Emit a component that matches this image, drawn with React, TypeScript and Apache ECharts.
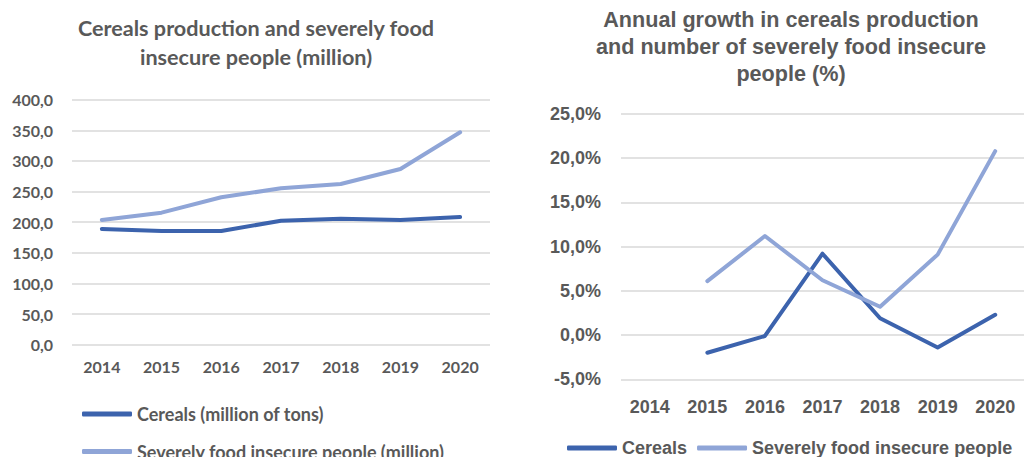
import React, { useEffect, useRef } from "react";
import * as echarts from "echarts";

const years = ["2014", "2015", "2016", "2017", "2018", "2019", "2020"];
const cerealsMillion = [189.0, 185.6, 185.6, 202.5, 205.8, 203.6, 208.5];
const insecureMillion = [203.6, 215.6, 240.7, 255.3, 262.4, 286.9, 346.8];
const cerealsGrowth = [null, -2.0, -0.1, 9.2, 1.9, -1.4, 2.3];
const insecureGrowth = [null, 6.1, 11.2, 6.2, 3.2, 9.1, 20.8];

const DARK = "#3C63AD";
const LIGHT = "#8FA5D7";
const GRAY = "#595959";
const GRID = "#D9D9D9";
const LEFT_FONT = "Lato";
const RIGHT_FONT = "Liberation Sans";

export default function App() {
  const ref = useRef<HTMLDivElement>(null);
  useEffect(() => {
    document.body.style.margin = "0";
    const chart = echarts.init(ref.current!, null, { renderer: "svg" });
    const leftLegendText = { fontFamily: LEFT_FONT, fontWeight: "bold", fontSize: 18, color: GRAY, lineHeight: 18 };
    chart.setOption({
      animation: false,
      backgroundColor: "#ffffff",
      title: [
        {
          text: "Cereals production and severely food\ninsecure people (million)",
          left: 251,
          top: 8.5,
          textAlign: "center",
          textStyle: { fontFamily: LEFT_FONT, fontWeight: "bold", fontSize: 21.6, color: GRAY, lineHeight: 29 },
        },
        {
          text: "Annual growth in cereals production\nand number of severely food insecure\npeople (%)",
          left: 786,
          top: 1,
          textAlign: "center",
          textStyle: { fontFamily: RIGHT_FONT, fontWeight: "bold", fontSize: 21.6, color: GRAY, lineHeight: 27 },
        },
      ],
      legend: [
        {
          left: 77,
          top: 400,
          itemWidth: 50,
          itemHeight: 5,
          icon: "roundRect",
          data: ["Cereals (million of tons)"],
          textStyle: leftLegendText,
        },
        {
          left: 77,
          top: 437.5,
          itemWidth: 50,
          itemHeight: 5,
          icon: "roundRect",
          data: ["Severely food insecure people (million)"],
          textStyle: leftLegendText,
        },
        {
          orient: "horizontal",
          left: 562,
          top: 434,
          itemWidth: 50,
          itemHeight: 5,
          itemGap: 10,
          icon: "roundRect",
          data: ["Cereals", "Severely food insecure people"],
          textStyle: { fontFamily: RIGHT_FONT, fontWeight: "bold", fontSize: 18, color: GRAY, lineHeight: 18 },
        },
      ],
      grid: [
        { left: 72, top: 99.7, width: 418, height: 245 },
        { left: 621, top: 114, width: 405, height: 265.3 },
      ],
      xAxis: [
        {
          type: "category",
          gridIndex: 0,
          data: years,
          boundaryGap: true,
          axisLine: { show: false },
          axisTick: { show: false },
          axisLabel: { fontFamily: LEFT_FONT, fontWeight: "bold", fontSize: 16, color: GRAY, margin: 14 },
        },
        {
          type: "category",
          gridIndex: 1,
          data: years,
          boundaryGap: true,
          axisLine: { show: false },
          axisTick: { show: false },
          axisLabel: { fontFamily: RIGHT_FONT, fontWeight: "bold", fontSize: 18, color: GRAY, margin: 19 },
        },
      ],
      yAxis: [
        {
          type: "value",
          gridIndex: 0,
          min: 0,
          max: 400,
          interval: 50,
          splitLine: { lineStyle: { color: GRID, width: 1.5 } },
          axisLabel: {
            fontFamily: LEFT_FONT,
            fontWeight: "bold",
            fontSize: 16,
            color: GRAY,
            margin: 19,
            formatter: (v: number) => v.toFixed(1).replace(".", ","),
          },
        },
        {
          type: "value",
          gridIndex: 1,
          min: -5,
          max: 25,
          interval: 5,
          splitLine: { lineStyle: { color: GRID, width: 1.5 } },
          axisLabel: {
            fontFamily: RIGHT_FONT,
            fontWeight: "bold",
            fontSize: 18,
            color: GRAY,
            margin: 20,
            formatter: (v: number) => v.toFixed(1).replace(".", ",") + "%",
          },
        },
      ],
      series: [
        {
          name: "Cereals (million of tons)",
          type: "line",
          xAxisIndex: 0,
          yAxisIndex: 0,
          data: cerealsMillion,
          symbol: "none",
          color: DARK,
          lineStyle: { width: 4, color: DARK, cap: "round", join: "round" },
        },
        {
          name: "Severely food insecure people (million)",
          type: "line",
          xAxisIndex: 0,
          yAxisIndex: 0,
          data: insecureMillion,
          symbol: "none",
          color: LIGHT,
          lineStyle: { width: 4, color: LIGHT, cap: "round", join: "round" },
        },
        {
          name: "Cereals",
          type: "line",
          xAxisIndex: 1,
          yAxisIndex: 1,
          data: cerealsGrowth,
          symbol: "none",
          color: DARK,
          lineStyle: { width: 4, color: DARK, cap: "round", join: "round" },
        },
        {
          name: "Severely food insecure people",
          type: "line",
          xAxisIndex: 1,
          yAxisIndex: 1,
          data: insecureGrowth,
          symbol: "none",
          color: LIGHT,
          lineStyle: { width: 4, color: LIGHT, cap: "round", join: "round" },
        },
      ],
    });
    return () => chart.dispose();
  }, []);
  return <div ref={ref} style={{ position: "absolute", left: 0, top: 0, width: 1024, height: 457 }} />;
}
